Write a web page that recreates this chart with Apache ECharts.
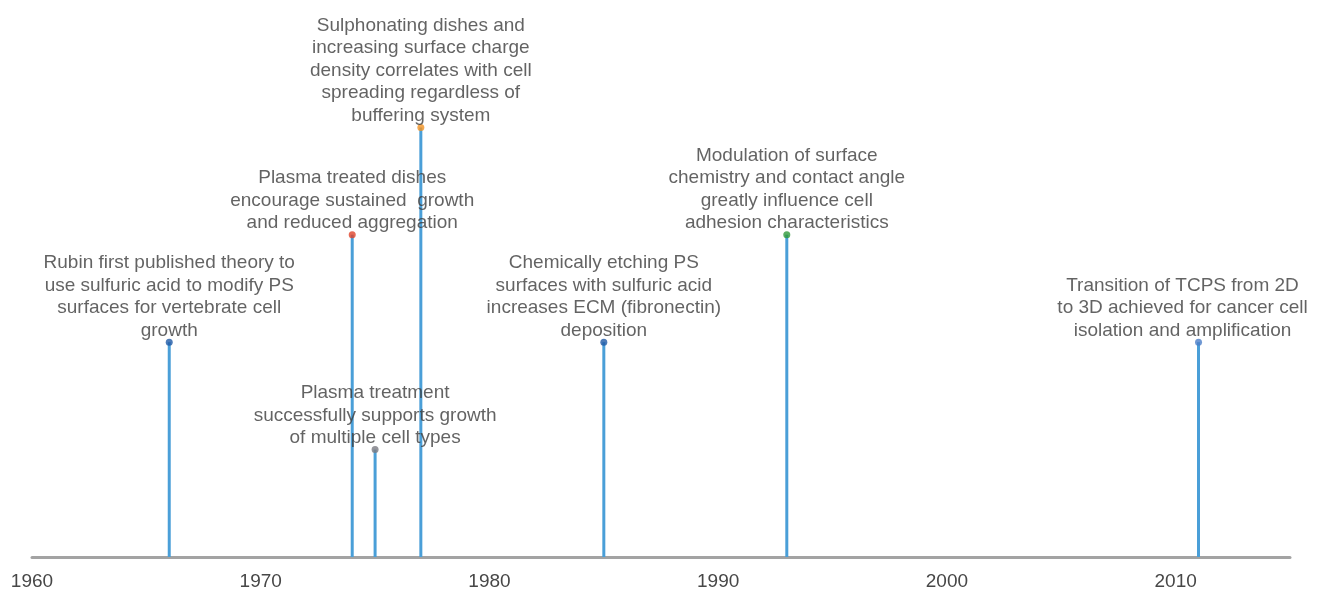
<!DOCTYPE html>
<html>
<head>
<meta charset="utf-8">
<script src="https://cdn.jsdelivr.net/npm/echarts@6/dist/echarts.min.js"></script>
<style>html,body{margin:0;padding:0;background:#fff}#c{width:1319px;height:591px}</style>
</head>
<body>
<div id="c"></div>
<script>
const years = [1966, 1974, 1975, 1977, 1985, 1993, 2011];
const levels = [2, 3, 1, 4, 2, 3, 2];
const dotColors = ['#1f5aa6', '#e0432a', '#7a7a82', '#f39222', '#1f5aa6', '#2e9a3a', '#4b7ec8'];
const events = [
  'Rubin first published theory to\nuse sulfuric acid to modify PS\nsurfaces for vertebrate cell\ngrowth',
  'Plasma treated dishes\nencourage sustained  growth\nand reduced aggregation',
  'Plasma treatment\nsuccessfully supports growth\nof multiple cell types',
  'Sulphonating dishes and\nincreasing surface charge\ndensity correlates with cell\nspreading regardless of\nbuffering system',
  'Chemically etching PS\nsurfaces with sulfuric acid\nincreases ECM (fibronectin)\ndeposition',
  'Modulation of surface\nchemistry and contact angle\ngreatly influence cell\nadhesion characteristics',
  'Transition of TCPS from 2D\nto 3D achieved for cancer cell\nisolation and amplification'
];
const labelShift = [0, 0, 0, 0, 0, 0, -16];
const xTicks = ['1960', '1970', '1980', '1990', '2000', '2010'];

const chart = echarts.init(document.getElementById('c'));
chart.setOption({
  animation: false,
  grid: { left: 32, right: 29, top: 20, bottom: 30, containLabel: false },
  xAxis: {
    type: 'value', min: 1960, max: 2015, interval: 10,
    axisLine: { show: true, lineStyle: { color: '#a3a3a3', width: 3 } },
    axisTick: { show: false },
    splitLine: { show: false },
    axisLabel: {
      color: '#474747', fontSize: 19, fontFamily: 'Liberation Sans, Arial, sans-serif', margin: 15,
      formatter: v => xTicks.includes(String(v)) ? String(v) : ''
    }
  },
  yAxis: { type: 'value', min: 0, max: 5, show: false },
  series: [
    {
      type: 'bar', barWidth: 3, z: 2,
      itemStyle: { color: '#4a9fd8' },
      data: years.map((y, i) => [y, levels[i]])
    },
    {
      type: 'scatter', symbolSize: 7, z: 3,
      data: years.map((y, i) => ({
        value: [y, levels[i]],
        itemStyle: { color: dotColors[i] },
        label: {
          show: true, position: 'top', distance: -3, offset: [labelShift[i], 0],
          formatter: events[i], align: 'center',
          color: '#3c3c3c', fontSize: 19, lineHeight: 22.5,
          fontFamily: 'Liberation Sans, Arial, sans-serif'
        }
      }))
    }
  ]
});
</script>
</body>
</html>
